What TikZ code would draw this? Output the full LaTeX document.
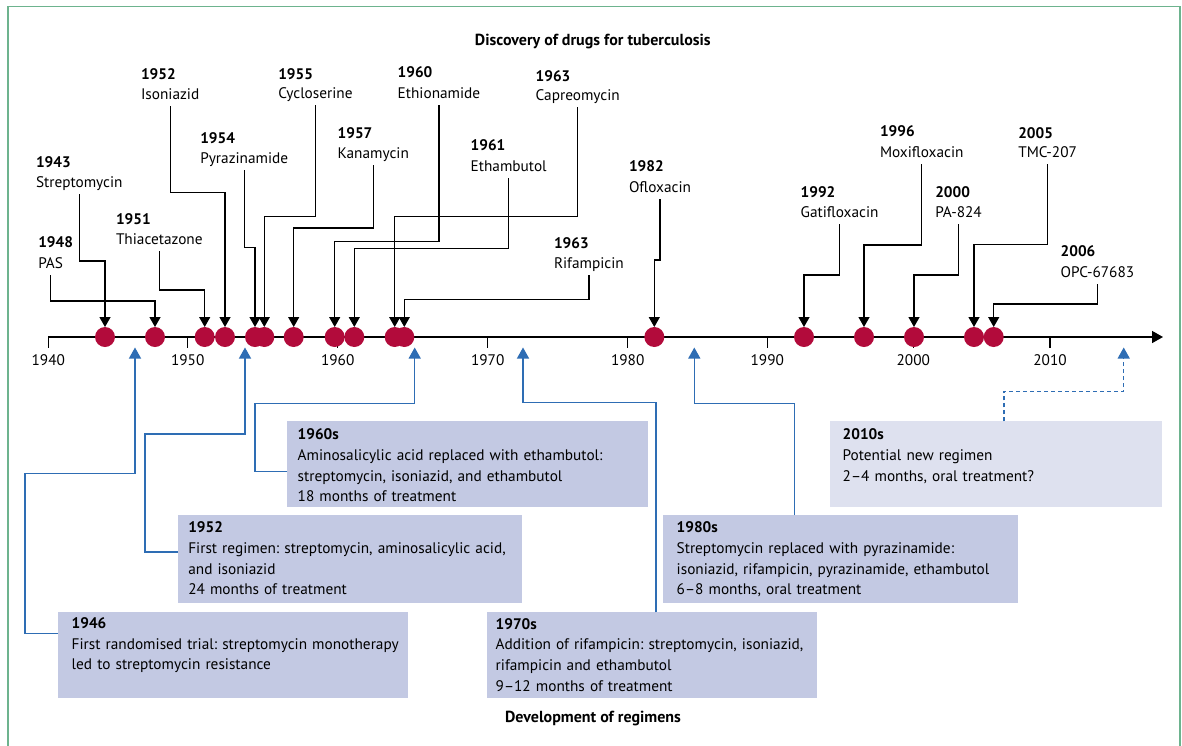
\documentclass[tikz,border=0pt]{standalone}
\usepackage{fontspec}
\setmainfont{PT Sans}
\usetikzlibrary{arrows.meta}
\definecolor{tbred}{HTML}{B20B3B}
\definecolor{tbblue}{HTML}{2E6DB4}
\definecolor{tbbox}{HTML}{C3C9E3}
\definecolor{tbboxlight}{HTML}{DEE1EF}
\definecolor{tbframe}{HTML}{6DB38E}
\frenchspacing
\begin{document}
\begin{tikzpicture}[x=1pt,y=-1pt,
  every node/.style={inner sep=0pt, outer sep=0pt, font=\fontsize{15.3}{20.7}\selectfont},
  dot/.style={circle, fill=tbred, minimum size=20pt},
  yr/.style={anchor=base west, font=\fontsize{15.3}{20.7}\selectfont\bfseries},
  drug/.style={anchor=base west},
  dec/.style={anchor=base},
  ttl/.style={anchor=base, font=\fontsize{16}{20.7}\selectfont\bfseries},
  conn/.style={line width=1.3pt, -{Triangle[width=11pt,length=10pt]}},
  bconn/.style={tbblue, line width=1.3pt, -{Triangle[width=12pt,length=11pt]}},
  regbox/.style={fill=tbbox, anchor=north west},
  regboxlight/.style={fill=tbboxlight, anchor=north west},
  regtext/.style={anchor=base west, align=left, text width=420pt},
  tick/.style={line width=1.3pt}
]
\useasboundingbox (0,0) rectangle (1182,745);
\fill[white] (0,0) rectangle (1182,745);
% frame
\draw[tbframe, line width=1.3pt] (8,746) -- (8,6.7) -- (1180,6.7) -- (1180,746);

% titles
\node[ttl] (title) at (592.8,45.7) {Discovery of drugs for tuberculosis};
\node[ttl] (subtitle) at (593,722.7) {Development of regimens};

% axis
\coordinate (axstart) at (48.3,337);
\coordinate (axend) at (1163,337);
\draw[line width=1.5pt, -{Triangle[width=12pt,length=11pt]}] (axstart) -- (axend);
\foreach \x/\l in {48.3/1940,187.7/1950,337.7/1960,487.7/1970,627.7/1980,767.3/1990,913.3/2000,1050/2010}{
  \draw[tick] (\x,337) -- (\x,348);
  \node[dec] (dec\l) at (\x,365) {\l};
}

% dots
\node[dot] (d1943) at (105,337) {};
\node[dot] (d1948) at (155,337) {};
\node[dot] (d1951) at (204.7,337) {};
\node[dot] (d1952) at (225,337) {};
\node[dot] (d1954) at (255,337) {};
\node[dot] (d1955) at (264.3,337) {};
\node[dot] (d1957) at (293.7,337) {};
\node[dot] (d1960) at (334.7,337) {};
\node[dot] (d1961) at (354.3,337) {};
\node[dot] (d1963c) at (394.7,337) {};
\node[dot] (d1963r) at (404.3,337) {};
\node[dot] (d1982) at (654.3,337) {};
\node[dot] (d1992) at (804,337) {};
\node[dot] (d1996) at (864,337) {};
\node[dot] (d2000) at (914,337) {};
\node[dot] (d2005) at (974,337) {};
\node[dot] (d2006) at (993.7,337) {};

% drug labels
\node[yr] (y1943) at (36,167.7) {1943};
\node[drug] (n1943) at (36,187.7) {Streptomycin};
\node[yr] (y1948) at (38.3,247.7) {1948};
\node[drug] (n1948) at (38.3,268.3) {PAS};
\node[yr] (y1951) at (116,224) {1951};
\node[drug] (n1951) at (116,244.3) {Thiacetazone};
\node[yr] (y1952) at (141,79) {1952};
\node[drug] (n1952) at (141,99.3) {Isoniazid};
\node[yr] (y1954) at (200.3,143.3) {1954};
\node[drug] (n1954) at (200.3,163.3) {Pyrazinamide};
\node[yr] (y1955) at (278.3,79) {1955};
\node[drug] (n1955) at (278.3,98.7) {Cycloserine};
\node[yr] (y1957) at (337.7,138.3) {1957};
\node[drug] (n1957) at (337.7,158.7) {Kanamycin};
\node[yr] (y1960) at (397.7,77.3) {1960};
\node[drug] (n1960) at (397.7,98.3) {Ethionamide};
\node[yr] (y1961) at (470.7,150.7) {1961};
\node[drug] (n1961) at (470.7,171.3) {Ethambutol};
\node[yr] (y1963c) at (535.7,81) {1963};
\node[drug] (n1963c) at (535.7,100.7) {Capreomycin};
\node[yr] (y1963r) at (554,248) {1963};
\node[drug] (n1963r) at (554,268.3) {Rifampicin};
\node[yr] (y1982) at (629,171.7) {1982};
\node[drug] (n1982) at (629,192.7) {Ofloxacin};
\node[yr] (y1992) at (800.7,197.7) {1992};
\node[drug] (n1992) at (800.7,217.3) {Gatifloxacin};
\node[yr] (y1996) at (880,136.7) {1996};
\node[drug] (n1996) at (880,157.3) {Moxifloxacin};
\node[yr] (y2000) at (935.3,197) {2000};
\node[drug] (n2000) at (935.3,217.3) {PA-824};
\node[yr] (y2005) at (1018.3,138.3) {2005};
\node[drug] (n2005) at (1018.3,157.7) {TMC-207};
\node[yr] (y2006) at (1060.7,256.7) {2006};
\node[drug] (n2006) at (1060.7,277.7) {OPC-67683};

% drug connectors
\draw[conn] ([yshift=-6.7pt]n1943.base) -- (n1943.base |- 0,261) -| (d1943.north);
\draw[conn] ([yshift=-6.7pt]n1948.base) -- (n1948.base |- 0,301) -| (d1948.north);
\draw[conn] ([yshift=-6.7pt]n1951.base) -- (n1951.base |- 0,290) -| (d1951.north);
\draw[conn] ([yshift=-6.7pt]n1952.base) -- (n1952.base |- 0,192.3) -| (d1952.north);
\draw[conn] ([yshift=-6.7pt]n1954.base) -- (n1954.base |- 0,247.7) -| (d1954.north);
\draw[conn] ([yshift=-6.7pt]n1955.base) -- (n1955.base |- 0,216.7) -| (d1955.north);
\draw[conn] ([yshift=-6.7pt]n1957.base) -- (n1957.base |- 0,228) -| (d1957.north);
\draw[conn] ([yshift=-6.7pt]n1960.base) -- (n1960.base |- 0,241.5) -| (d1960.north);
\draw[conn] ([yshift=-6.7pt]n1961.base) -- (n1961.base |- 0,248.7) -| (d1961.north);
\draw[conn] ([yshift=-6.7pt]n1963c.base) -- (n1963c.base |- 0,216.7) -| (d1963c.north);
\draw[conn] ([yshift=-6.7pt]n1963r.base) -- (n1963r.base |- 0,299.3) -| (d1963r.north);
\draw[conn] ([yshift=-6.7pt]n1982.base) -- (n1982.base |- 0,260) -| (d1982.north);
\draw[conn] ([yshift=-6.7pt]n1992.base) -- (n1992.base |- 0,275) -| (d1992.north);
\draw[conn] ([yshift=-6.7pt]n1996.base) -- (n1996.base |- 0,245) -| (d1996.north);
\draw[conn] ([yshift=-6.7pt]n2000.base) -- (n2000.base |- 0,275) -| (d2000.north);
\draw[conn] ([yshift=-6.7pt]n2005.base) -- (n2005.base |- 0,244.3) -| (d2005.north);
\draw[conn] ([yshift=-6.7pt]n2006.base) -- (n2006.base |- 0,304) -| (d2006.north);

% regimen boxes
\node[regbox, minimum width=350pt, minimum height=85.4pt] (b1946) at (58,612.3) {};
\node[regbox, minimum width=344pt, minimum height=87.7pt] (b1952) at (178,515) {};
\node[regbox, minimum width=360.4pt, minimum height=85.4pt] (b1960s) at (287.3,421.3) {};
\node[regbox, minimum width=329.7pt, minimum height=85.4pt] (b1970s) at (487,612.3) {};
\node[regbox, minimum width=355pt, minimum height=87.7pt] (b1980s) at (663,515) {};
\node[regboxlight, minimum width=332pt, minimum height=85.4pt] (b2010s) at (830,421.3) {};

\node[regtext] (t1946) at (71.7,628.5) {\textbf{1946}\\First randomised trial: streptomycin monotherapy\\led to streptomycin resistance};
\node[regtext] (t1952) at (188.3,532.7) {\textbf{1952}\\First regimen: streptomycin, aminosalicylic acid,\\and isoniazid\\24 months of treatment};
\node[regtext] (t1960s) at (297.7,439.7) {\textbf{1960s}\\Aminosalicylic acid replaced with ethambutol:\\streptomycin, isoniazid, and ethambutol\\18 months of treatment};
\node[regtext] (t1970s) at (495.7,629) {\textbf{1970s}\\Addition of rifampicin: streptomycin, isoniazid,\\rifampicin and ethambutol\\9–12 months of treatment};
\node[regtext] (t1980s) at (676.7,532.7) {\textbf{1980s}\\Streptomycin replaced with pyrazinamide:\\isoniazid, rifampicin, pyrazinamide, ethambutol\\6–8 months, oral treatment};
\node[regtext] (t2010s) at (842.7,439.7) {\textbf{2010s}\\Potential new regimen\\2–4 months, oral treatment?};

% regimen arrow targets
\coordinate (a1946) at (135,347.5);
\coordinate (a1952) at (245,347.5);
\coordinate (a1960s) at (414.7,347.5);
\coordinate (a1970s) at (523,347.5);
\coordinate (a1980s) at (694.3,347.5);
\coordinate (a2010s) at (1123.7,347.5);

\draw[bconn] ([yshift=-21pt]b1946.north west) -| (25,473.3) -| (a1946);
\draw[bconn] ([yshift=-37pt]b1952.north west) -| (145,434) -| (a1952);
\draw[bconn] ([yshift=-50.4pt]b1960s.north west) -| (255,403.7) -| (a1960s);
\draw[bconn] ([xshift=169pt]b1970s.north west) |- (523,402.7) -- (a1970s);
\draw[bconn] ([xshift=131.7pt]b1980s.north west) |- (694.3,403.3) -- (a1980s);
\draw[bconn, dash pattern=on 4pt off 3pt] ([xshift=174pt]b2010s.north west) |- (1123.7,391.7) -- (a2010s);
\end{tikzpicture}
\end{document}
